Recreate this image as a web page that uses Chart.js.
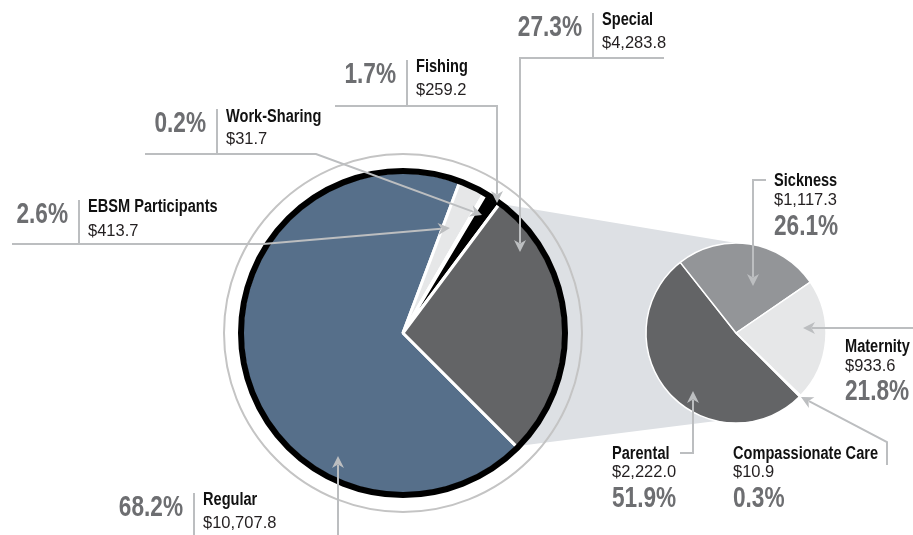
<!DOCTYPE html>
<html><head><meta charset="utf-8">
<script src="https://cdn.jsdelivr.net/npm/chart.js@4/dist/chart.umd.min.js"></script>
<style>
html,body{margin:0;padding:0;background:#fff;}
#wrap{position:relative;width:913px;height:535px;overflow:hidden;}
#wrap canvas{position:absolute;left:0;top:0;}
</style></head><body>
<div id="wrap"><canvas id="main" width="913" height="535"></canvas><canvas id="detail" width="913" height="535"></canvas></div>
<script>
// ---- data ----
const mainCategories = ['Regular', 'EBSM Participants', 'Work-Sharing', 'Fishing', 'Special'];
const mainValues = [10707.8, 413.7, 31.7, 259.2, 4283.8];
const mainPercents = ['68.2%', '2.6%', '0.2%', '1.7%', '27.3%'];
const specialCategories = ['Parental', 'Sickness', 'Maternity', 'Compassionate Care'];
const specialValues = [2222.0, 1117.3, 933.6, 10.9];
const specialPercents = ['51.9%', '26.1%', '21.8%', '0.3%'];

// ---- styles ----
const mainColors = ['#566f8a', '#e6e7e8', '#ffffff', '#000000', '#636466'];
const specialColors = ['#636466', '#939598', '#e6e7e8', '#000000'];
const LINE = '#bcbec0';
const PCT = '#6d6e71';
const BOLDF = '"Liberation Sans", Arial, sans-serif';
const REG = '"Liberation Sans", Arial, sans-serif';
const PCT_FONT = 'bold 29px ' + BOLDF, PCT_SX = 0.78;
const NAME_FONT = 'bold 18px ' + BOLDF, NAME_SX = 0.81;
const VAL_FONT = '16.5px ' + REG;

const fmt = v => '$' + v.toLocaleString('en-US', {minimumFractionDigits: 1, maximumFractionDigits: 1});

// annotation layout (pixels)
const mainLabelLayout = [
  {sepX: 194, sepTop: 493, sepBot: 535, nameY: 505, valueY: 528, pctY: 516, path: [[338, 535], [338, 456]]},
  {sepX: 79, sepTop: 200, sepBot: 244, nameY: 212, valueY: 236, pctY: 223, path: [[12, 244], [263, 244], [450, 228]]},
  {sepX: 217, sepTop: 109, sepBot: 154, nameY: 122, valueY: 144, pctY: 132, path: [[145, 154], [316, 154], [482, 215]]},
  {sepX: 407, sepTop: 60, sepBot: 106, nameY: 72, valueY: 95, pctY: 83, path: [[335, 106], [497, 106], [497, 203]]},
  {sepX: 593, sepTop: 13, sepBot: 58, nameY: 25, valueY: 48, pctY: 36, path: [[664, 58], [520, 58], [520, 252]]}
];
const specialLabelLayout = [
  {x: 612, nameY: 459, valueY: 477, pctY: 507, path: [[680, 453], [693, 453], [693, 391]]},
  {x: 774, nameY: 186, valueY: 205, pctY: 235, path: [[766, 180], [753, 180], [753, 286]]},
  {x: 845, nameY: 352, valueY: 371, pctY: 400, path: [[913, 328], [803, 328]]},
  {x: 733, nameY: 459, valueY: 477, pctY: 507, path: [[887, 465], [887, 442], [801, 397]]}
];

function text(ctx, str, x, y, font, color, align, sx) {
  ctx.save();
  ctx.font = font; ctx.fillStyle = color; ctx.textAlign = align; ctx.textBaseline = 'alphabetic';
  ctx.translate(x, y); ctx.scale(sx, 1);
  ctx.fillText(str, 0, 0);
  ctx.restore();
}

function arrowPath(ctx, pts) {
  ctx.save();
  ctx.strokeStyle = LINE; ctx.fillStyle = LINE; ctx.lineWidth = 2;
  ctx.lineJoin = 'miter';
  const n = pts.length;
  const [tx, ty] = pts[n - 1], [px, py] = pts[n - 2];
  const ang = Math.atan2(ty - py, tx - px);
  const L = 12, W = 6;
  ctx.beginPath();
  ctx.moveTo(pts[0][0], pts[0][1]);
  for (let i = 1; i < n - 1; i++) ctx.lineTo(pts[i][0], pts[i][1]);
  ctx.lineTo(tx - Math.cos(ang) * (L - 3), ty - Math.sin(ang) * (L - 3));
  ctx.stroke();
  ctx.translate(tx, ty); ctx.rotate(ang);
  ctx.beginPath();
  ctx.moveTo(0, 0); ctx.lineTo(-L, -W); ctx.lineTo(-L + 3.5, 0); ctx.lineTo(-L, W); ctx.closePath();
  ctx.fill();
  ctx.restore();
}

const detailPlugin = {
  id: 'detailAnnotations',
  afterDraw(chart) {
    const ctx = chart.ctx;
    ctx.save();
    mainLabelLayout.forEach((l, i) => {
      ctx.strokeStyle = LINE; ctx.lineWidth = 2;
      ctx.beginPath(); ctx.moveTo(l.sepX, l.sepTop); ctx.lineTo(l.sepX, l.sepBot); ctx.stroke();
      arrowPath(ctx, l.path);
      text(ctx, mainPercents[i], l.sepX - 11, l.pctY, PCT_FONT, PCT, 'right', PCT_SX);
      text(ctx, mainCategories[i], l.sepX + 9, l.nameY, NAME_FONT, '#111', 'left', NAME_SX);
      text(ctx, fmt(mainValues[i]), l.sepX + 9, l.valueY, VAL_FONT, '#231f20', 'left', 1);
    });
    specialLabelLayout.forEach((l, i) => {
      arrowPath(ctx, l.path);
      text(ctx, specialCategories[i], l.x, l.nameY, NAME_FONT, '#111', 'left', NAME_SX);
      text(ctx, fmt(specialValues[i]), l.x, l.valueY, VAL_FONT, '#231f20', 'left', 1);
      text(ctx, specialPercents[i], l.x, l.pctY, PCT_FONT, PCT, 'left', PCT_SX);
    });
    ctx.restore();
  }
};

const detailChart = new Chart(document.getElementById('detail'), {
  type: 'pie',
  data: {labels: specialCategories, datasets: [{data: specialValues, backgroundColor: specialColors, borderColor: '#ffffff', borderWidth: 1.5}]},
  options: {
    responsive: false, animation: false, events: [], devicePixelRatio: 1,
    rotation: 135, radius: 90,
    layout: {padding: {left: 559, right: 0, top: 131, bottom: 0}},
    plugins: {legend: {display: false}, tooltip: {enabled: false}}
  },
  plugins: [detailPlugin]
});

const mainPlugin = {
  id: 'mainDecor',
  beforeDatasetsDraw(chart) {
    const ctx = chart.ctx;
    const m = chart.getDatasetMeta(0).data[0];
    const d = detailChart.getDatasetMeta(0).data[0];
    const p = (c, deg, r) => [c.x + r * Math.cos(deg * Math.PI / 180), c.y + r * Math.sin(deg * Math.PI / 180)];
    const A = p(m, -56.5, 157), B = p(d, -84.2, 89), C = p(d, 87.3, 85), D = p(m, 45.6, 159);
    ctx.save();
    ctx.fillStyle = '#dde0e4';
    ctx.beginPath();
    ctx.moveTo(m.x, m.y); ctx.lineTo(A[0], A[1]); ctx.lineTo(B[0], B[1]);
    ctx.lineTo(d.x, d.y); ctx.lineTo(C[0], C[1]); ctx.lineTo(D[0], D[1]);
    ctx.closePath(); ctx.fill();
    ctx.restore();
  },
  afterDatasetsDraw(chart) {
    const ctx = chart.ctx;
    const m = chart.getDatasetMeta(0).data[0];
    ctx.save();
    ctx.beginPath(); ctx.arc(m.x, m.y, m.outerRadius + 1, 0, Math.PI * 2);
    ctx.lineWidth = 6; ctx.strokeStyle = '#000'; ctx.stroke();
    ctx.beginPath(); ctx.arc(m.x, m.y, m.outerRadius + 18, 0, Math.PI * 2);
    ctx.lineWidth = 2; ctx.strokeStyle = '#c4c4c4'; ctx.stroke();
    ctx.restore();
  }
};

new Chart(document.getElementById('main'), {
  type: 'pie',
  data: {labels: mainCategories, datasets: [{data: mainValues, backgroundColor: mainColors, borderColor: '#ffffff', borderWidth: 3}]},
  options: {
    responsive: false, animation: false, events: [], devicePixelRatio: 1,
    rotation: 135, radius: 161,
    layout: {padding: {left: 0, right: 107, top: 131, bottom: 0}},
    plugins: {legend: {display: false}, tooltip: {enabled: false}}
  },
  plugins: [mainPlugin]
});
</script>
</body></html>
